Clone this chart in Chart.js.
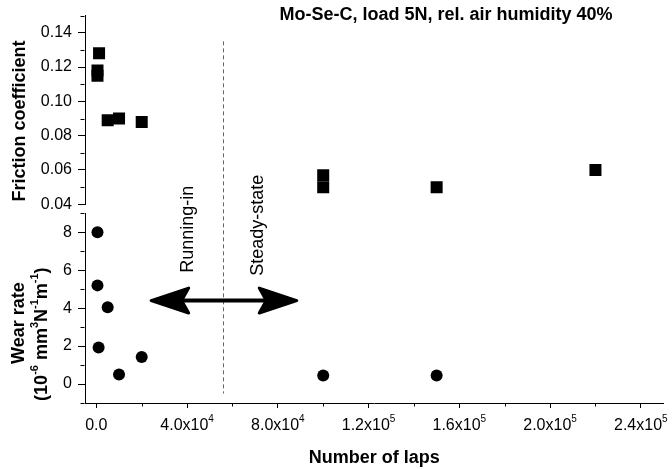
<!DOCTYPE html>
<html>
<head>
<meta charset="utf-8">
<script src="https://cdn.jsdelivr.net/npm/chart.js@4/dist/chart.umd.min.js"></script>
<style>
  html, body { margin: 0; padding: 0; background: #fff; }
</style>
</head>
<body>
<canvas id="grafic" width="672" height="469"></canvas>
<script>
// friction coefficient (squares)
var frictionLaps = [1200, 500, 500, 5000, 10000, 20000, 100000, 100000, 150000, 220000];
var frictionCoef = [0.128, 0.118, 0.115, 0.089, 0.090, 0.088, 0.057, 0.050, 0.050, 0.060];

// wear rate, 10^-6 mm3/Nm (circles)
var wearLaps = [500, 500, 5000, 1000, 10000, 20000, 100000, 150000];
var wearRate = [8.0, 5.2, 4.05, 1.93, 0.5, 1.43, 0.45, 0.45];

var xTicks = [0, 40000, 80000, 120000, 160000, 200000, 240000];
var xTickLabels = ['0.0', '4.0x10^{4}', '8.0x10^{4}', '1.2x10^{5}', '1.6x10^{5}', '2.0x10^{5}', '2.4x10^{5}'];
var xMinorTicks = [20000, 60000, 100000, 140000, 180000, 220000];
var frictionTicks = [0.04, 0.06, 0.08, 0.10, 0.12, 0.14];
var frictionMinor = [0.05, 0.07, 0.09, 0.11, 0.13, 0.15];
var wearTicks = [0, 2, 4, 6, 8];
var wearMinor = [-1, 1, 3, 5, 7, 9];

var runInLimit = 56000;

var FONT = "'Liberation Sans', Arial, Helvetica, sans-serif";

function fontStr(size, bold) {
    return (bold ? 'bold ' : '') + size + 'px ' + FONT;
}

function parseRuns(str) {
    var runs = [];
    var re = /\^\{([^}]*)\}/g;
    var last = 0, m;
    while ((m = re.exec(str))) {
        if (m.index > last) runs.push({ t: str.slice(last, m.index), sup: false });
        runs.push({ t: m[1], sup: true });
        last = re.lastIndex;
    }
    if (last < str.length) runs.push({ t: str.slice(last), sup: false });
    return runs;
}

// text centred on x, y is the baseline
function drawRich(ctx, str, x, y, size, bold) {
    var runs = parseRuns(str);
    var supSize = Math.round(size * 0.62);
    var w = 0;
    runs.forEach(function (r) {
        ctx.font = fontStr(r.sup ? supSize : size, bold);
        w += ctx.measureText(r.t).width;
    });
    var cx = x - w / 2;
    ctx.textAlign = 'left';
    ctx.textBaseline = 'alphabetic';
    runs.forEach(function (r) {
        ctx.font = fontStr(r.sup ? supSize : size, bold);
        ctx.fillText(r.t, cx, r.sup ? y - size * 0.5 : y);
        cx += ctx.measureText(r.t).width;
    });
}

function drawRotated(ctx, str, x, y, size, bold) {
    ctx.save();
    ctx.translate(x, y);
    ctx.rotate(-Math.PI / 2);
    drawRich(ctx, str, 0, 0, size, bold);
    ctx.restore();
}

function drawArrowHead(ctx, x, y, dir) {
    ctx.save();
    ctx.translate(x, y);
    ctx.scale(dir, 1);
    ctx.lineWidth = 3;
    ctx.lineJoin = 'round';
    ctx.beginPath();
    ctx.moveTo(1.5, 0);
    ctx.lineTo(39, -12.5);
    ctx.lineTo(32, 0);
    ctx.lineTo(39, 12.5);
    ctx.closePath();
    ctx.fill();
    ctx.stroke();
    ctx.restore();
}

var decoracio = {
    id: 'decoracio',
    beforeDatasetsDraw: function (chart) {
        var ctx = chart.ctx;
        var sx = chart.scales.x, yf = chart.scales.yFriccio, yw = chart.scales.yDesgast;
        var px = Math.round(sx.getPixelForValue(runInLimit)) + 0.5;
        ctx.save();
        ctx.strokeStyle = '#666';
        ctx.lineWidth = 1;
        ctx.setLineDash([4, 3]);
        ctx.beginPath();
        ctx.moveTo(px, yf.getPixelForValue(0.135));
        ctx.lineTo(px, yw.getPixelForValue(-0.5));
        ctx.stroke();
        ctx.restore();
    },
    afterDatasetsDraw: function (chart) {
        var ctx = chart.ctx;
        var sx = chart.scales.x, yw = chart.scales.yDesgast;
        var x1 = sx.getPixelForValue(23500), x2 = sx.getPixelForValue(89000);
        var py = yw.getPixelForValue(4.4);
        ctx.save();
        ctx.strokeStyle = '#000';
        ctx.fillStyle = '#000';
        ctx.lineWidth = 4;
        ctx.beginPath();
        ctx.moveTo(x1 + 30, py);
        ctx.lineTo(x2 - 30, py);
        ctx.stroke();
        drawArrowHead(ctx, x1, py, 1);
        drawArrowHead(ctx, x2, py, -1);
        ctx.restore();
    },
    afterDraw: function (chart) {
        var ctx = chart.ctx;
        var sx = chart.scales.x, yf = chart.scales.yFriccio, yw = chart.scales.yDesgast;
        ctx.save();
        ctx.strokeStyle = '#000';
        ctx.fillStyle = '#000';
        ctx.lineWidth = 1;

        // minor ticks
        var ax = Math.round(yf.right) - 0.5;
        ctx.beginPath();
        frictionMinor.forEach(function (v) {
            var p = Math.round(yf.getPixelForValue(v)) + 0.5;
            ctx.moveTo(ax - 4, p); ctx.lineTo(ax, p);
        });
        wearMinor.forEach(function (v) {
            var p = Math.round(yw.getPixelForValue(v)) + 0.5;
            ctx.moveTo(ax - 4, p); ctx.lineTo(ax, p);
        });
        var ay = Math.round(sx.top) + 0.5;
        xMinorTicks.forEach(function (v) {
            var p = Math.round(sx.getPixelForValue(v)) + 0.5;
            ctx.moveTo(p, ay); ctx.lineTo(p, ay + 3);
        });
        ctx.stroke();

        // x tick labels with exponents
        xTicks.forEach(function (v, i) {
            drawRich(ctx, xTickLabels[i], sx.getPixelForValue(v), sx.top + 27, 16, false);
        });

        // annotations
        drawRotated(ctx, 'Running-in', sx.getPixelForValue(42400), yw.getPixelForValue(8.16), 18, false);
        drawRotated(ctx, 'Steady-state', sx.getPixelForValue(73500), yw.getPixelForValue(8.37), 18, false);

        // titles
        drawRich(ctx, 'Mo-Se-C, load 5N, rel. air humidity 40%', 446, 20, 18, true);
        drawRich(ctx, 'Number of laps', (chart.chartArea.left + chart.chartArea.right) / 2, 463, 18, true);
        drawRotated(ctx, 'Friction coefficient', 25, (yf.top + yf.bottom) / 2 + 11, 18, true);
        drawRotated(ctx, 'Wear rate', 24, (yw.top + yw.bottom) / 2 + 15, 18, true);
        drawRotated(ctx, '(10^{-6} mm^{3}N^{-1}m^{-1})', 47, (yw.top + yw.bottom) / 2 + 26, 18, true);
        ctx.restore();
    }
};

function eixY(min, max, ticks, weight) {
    return {
        type: 'linear',
        position: 'left',
        stack: 'panells',
        stackWeight: weight,
        min: min,
        max: max,
        afterBuildTicks: function (s) { s.ticks = ticks.map(function (v) { return { value: v }; }); },
        afterFit: function (s) { s.width = 85; },
        grid: { drawOnChartArea: false, drawTicks: true, tickLength: 7, color: '#000' },
        border: { display: true, color: '#000', width: 1 },
        ticks: {
            color: '#000',
            padding: 6,
            autoSkip: false,
            font: { family: FONT, size: 16 },
            callback: function (v) { return max < 1 ? v.toFixed(2) : String(v); }
        }
    };
}

function punts(xs, ys) {
    return xs.map(function (x, i) { return { x: x, y: ys[i] }; });
}

var ctx = document.getElementById('grafic').getContext('2d');

new Chart(ctx, {
    type: 'scatter',
    data: {
        datasets: [{
            label: 'Friction coefficient',
            data: punts(frictionLaps, frictionCoef),
            yAxisID: 'yFriccio',
            pointStyle: 'rect',
            pointRadius: 8.5,
            backgroundColor: '#000',
            borderColor: '#000',
            borderWidth: 0
        }, {
            label: 'Wear rate',
            data: punts(wearLaps, wearRate),
            yAxisID: 'yDesgast',
            pointStyle: 'circle',
            pointRadius: 6,
            backgroundColor: '#000',
            borderColor: '#000',
            borderWidth: 0
        }]
    },
    options: {
        responsive: false,
        animation: false,
        devicePixelRatio: 1,
        layout: { padding: { top: 15, right: 8, left: 0, bottom: 0 } },
        plugins: { legend: { display: false }, title: { display: false }, tooltip: { enabled: false } },
        scales: {
            x: {
                type: 'linear',
                position: 'bottom',
                min: -5000,
                max: 250000,
                afterBuildTicks: function (s) { s.ticks = xTicks.map(function (v) { return { value: v }; }); },
                afterFit: function (s) { s.height = 66; },
                grid: { drawOnChartArea: false, drawTicks: true, tickLength: 5, color: '#000' },
                border: { display: true, color: '#000', width: 1 },
                ticks: { display: false }
            },
            yDesgast: eixY(-1, 9, wearTicks, 190),
            yBuit: {
                type: 'linear',
                position: 'left',
                stack: 'panells',
                stackWeight: 9,
                min: 0,
                max: 1,
                afterFit: function (s) { s.width = 85; },
                grid: { display: false },
                border: { display: false },
                ticks: { display: false }
            },
            yFriccio: eixY(0.04, 0.15, frictionTicks, 189)
        }
    },
    plugins: [decoracio]
});
</script>
</body>
</html>
